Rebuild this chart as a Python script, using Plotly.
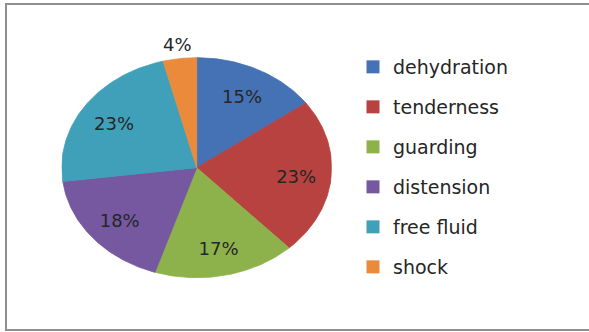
import numpy as np
import plotly.graph_objects as go

# Share of positive findings, by sign (percent)
categories = ["dehydration", "tenderness", "guarding", "distension", "free fluid", "shock"]
values = [15, 23, 17, 18, 23, 4]
colors = ["#4472B4", "#B8423F", "#8EB24B", "#7558A0", "#40A0BA", "#EB8A3A"]

W, H = 589, 332
# pie geometry in pixels: centre and the two semi-axes
CX, CY, RX, RY = 196.7, 167.7, 135.0, 110.0
SPAN = 1.3  # axis half-range, leaves room for the outside label

fig = go.Figure()

total = float(sum(values))
start = 0.0
label_x, label_y, label_text = [], [], []
for name, v, c in zip(categories, values, colors):
    frac = v / total
    a0, a1 = start * 2 * np.pi, (start + frac) * 2 * np.pi
    t = np.linspace(a0, a1, max(int(frac * 360), 4))
    # angles run clockwise from 12 o'clock
    xs = np.concatenate([[0.0], np.sin(t), [0.0]])
    ys = np.concatenate([[0.0], np.cos(t), [0.0]])
    fig.add_trace(go.Scatter(
        x=xs, y=ys, mode="lines", fill="toself", fillcolor=c,
        line=dict(color=c, width=0.8), showlegend=False, hoverinfo="skip",
    ))
    mid = (start + frac / 2) * 2 * np.pi
    r = 0.74 if frac >= 0.08 else 1.14
    label_x.append(r * np.sin(mid))
    label_y.append(r * np.cos(mid) - 0.03)
    label_text.append(f"{round(frac * 100)}%")
    start += frac

# percentage labels
fig.add_trace(go.Scatter(
    x=label_x, y=label_y, mode="text", text=label_text,
    textfont=dict(family="DejaVu Sans", size=18, color="#262626"),
    showlegend=False, hoverinfo="skip", cliponaxis=False,
))

# legend entries
for name, c in zip(categories, colors):
    fig.add_trace(go.Scatter(
        x=[None], y=[None], mode="markers", name=name, legendgroup=name,
        marker=dict(symbol="square", size=13, color=c),
    ))

fig.update_layout(
    width=W, height=H,
    margin=dict(l=0, r=0, t=0, b=0),
    paper_bgcolor="white", plot_bgcolor="rgba(0,0,0,0)",
    xaxis=dict(domain=[(CX - RX) / W, (CX + RX) / W], range=[-1, 1],
               visible=False, fixedrange=True),
    yaxis=dict(domain=[1 - (CY + SPAN * RY) / H, 1 - (CY - SPAN * RY) / H],
               range=[-SPAN, SPAN], visible=False, fixedrange=True),
    legend=dict(
        x=353 / W, xanchor="left", y=1 - 48 / H, yanchor="top",
        font=dict(family="DejaVu Sans", size=19, color="#262626"),
        tracegroupgap=12.3, bgcolor="rgba(0,0,0,0)",
    ),
    shapes=[dict(
        type="rect", xref="paper", yref="paper",
        x0=6 / W, x1=1.02, y0=1 - 330 / H, y1=1 - 4 / H,
        line=dict(color="#8E8E8E", width=2), fillcolor="rgba(0,0,0,0)", layer="below",
    )],
)

fig.write_html("out.html")
